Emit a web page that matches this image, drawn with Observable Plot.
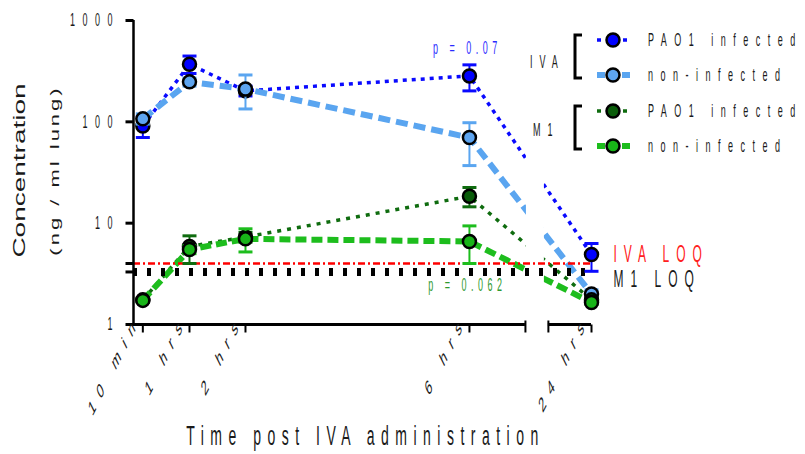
<!DOCTYPE html>
<html><head><meta charset="utf-8">
<script src="https://cdn.jsdelivr.net/npm/d3@7"></script>
<script src="https://cdn.jsdelivr.net/npm/@observablehq/plot@0.6"></script>
<style>
html,body{margin:0;padding:0;background:#fff;}
#chart svg{display:block;}
</style></head><body><div id="chart"></div>
<script>
// ---------------- data ----------------
const timeHours = [1/6, 1, 2, 6, 24];
const timeLabels = ["10 min", "1 hrs", "2 hrs", "6 hrs", "24 hrs"];

const ivaInfectedMean = [91, 370, 202, 284, 4.9];
const ivaInfectedLow  = [70, 300, 180, 202, 3.35];
const ivaInfectedHigh = [112, 446, 225, 365, 6.3];

const ivaNonInfectedMean = [107, 248, 211, 70, 2.0];
const ivaNonInfectedLow  = [95, 225, 134, 37, 1.85];
const ivaNonInfectedHigh = [120, 270, 290, 98, 2.2];

const m1InfectedMean = [1.75, 5.9, 7.3, 18.4, 1.75];
const m1InfectedLow  = [1.68, 4.0, 6.5, 14.5, 1.68];
const m1InfectedHigh = [1.83, 7.5, 8.1, 22.5, 1.83];

const m1NonInfectedMean = [1.73, 5.5, 7.0, 6.6, 1.65];
const m1NonInfectedLow  = [1.66, 5.0, 5.2, 4.0, 1.58];
const m1NonInfectedHigh = [1.8, 6.0, 8.8, 9.4, 1.72];

const yTickValues = [1, 10, 100, 1000];
const loqValues = [4.0, 3.3];
const loqLabels = ["IVA LOQ", "M1 LOQ"];
const pValueLabels = ["p = 0.07", "p = 0.062"];
const legendGroups = ["IVA", "M1"];
const legendLabels = ["PAO1 infected", "non-infected"];
const xAxisTitle = "Time post IVA administration";
const yAxisTitle = ["Concentration", "(ng / ml lung)"];
const xAxisSegments = [[0, 7], [23.23, 24]];   // hours shown on each side of the axis break

// ---------------- helpers ----------------
const breakGap = 0.41;
const brk = t => t <= xAxisSegments[0][1] ? t : xAxisSegments[0][1] + breakGap + (t - xAxisSegments[1][0]);
const FONT = "Liberation Sans, Arial, Helvetica, sans-serif";
const INK = "#1a1a1a";

const series = [
  {mean: ivaInfectedMean, low: ivaInfectedLow, high: ivaInfectedHigh, fill: "#0000ff", line: "#0a0aff", width: 3.5, dash: "4,5"},
  {mean: ivaNonInfectedMean, low: ivaNonInfectedLow, high: ivaNonInfectedHigh, fill: "#5da4ef", line: "#5aa5f0", width: 6, dash: "12,6"},
  {mean: m1InfectedMean, low: m1InfectedLow, high: m1InfectedHigh, fill: "#0a5c0a", line: "#0f6c0f", width: 3.5, dash: "4,6"},
  {mean: m1NonInfectedMean, low: m1NonInfectedLow, high: m1NonInfectedHigh, fill: "#18b418", line: "#1dbd1d", width: 6, dash: "11,5"}
];
const rowsOf = s => timeHours.map((t, i) => ({x: brk(t), v: s.mean[i], lo: s.low[i], hi: s.high[i]}));

const hTick = {draw(c) { c.moveTo(-8, 0); c.lineTo(0, 0); }};
const vTick = {draw(c) { c.moveTo(0, 0); c.lineTo(0, 8); }};
const vTickLong = {draw(c) { c.moveTo(0, -4); c.lineTo(0, 8); }};
const capSym = {draw(c) { c.moveTo(-7, 0); c.lineTo(7, 0); }};

// ---------------- marks ----------------
const marks = [];
const xEnd = brk(timeHours[timeHours.length - 1]);

// series lines, then white mask over the axis break
series.forEach(s => marks.push(Plot.line(rowsOf(s), {x: "x", y: "v", stroke: s.line, strokeWidth: s.width, strokeDasharray: s.dash, strokeLinecap: "butt", strokeLinejoin: "miter"})));
marks.push(Plot.rect([{x1: brk(xAxisSegments[0][1]), x2: brk(xAxisSegments[1][0])}], {x1: "x1", x2: "x2", y1: () => 1, y2: () => 1000, fill: "#fff", insetLeft: 1, insetRight: 4}));

// LOQ lines
marks.push(Plot.ruleY([{v: loqValues[0], x1: 0, x2: xEnd}], {y: "v", x1: "x1", x2: "x2", stroke: "#ff0000", strokeWidth: 2.5, strokeDasharray: "7,3,2,3"}));
marks.push(Plot.ruleY([{v: loqValues[1], x1: 0, x2: xEnd}], {y: "v", x1: "x1", x2: "x2", stroke: "#000", strokeWidth: 8, strokeDasharray: "4,10"}));

series.forEach(s => {
  const rows = rowsOf(s);
  marks.push(Plot.ruleX(rows, {x: "x", y1: "lo", y2: "hi", stroke: s.line, strokeWidth: 2}));
  marks.push(Plot.dot(rows, {x: "x", y: "lo", symbol: capSym, fill: "none", stroke: s.line, strokeWidth: 3}));
  marks.push(Plot.dot(rows, {x: "x", y: "hi", symbol: capSym, fill: "none", stroke: s.line, strokeWidth: 3}));
  marks.push(Plot.dot(rows, {x: "x", y: "v", r: 6.5, fill: s.fill, stroke: "#000", strokeWidth: 2.5}));
});

// axes
marks.push(Plot.ruleX([{x: 0, y1: 1, y2: 1000}], {x: "x", y1: "y1", y2: "y2", stroke: "#000", strokeWidth: 2.5}));
marks.push(Plot.ruleY(xAxisSegments.map(([a, b]) => ({y: 1, x1: brk(a), x2: brk(b)})), {y: "y", x1: "x1", x2: "x2", stroke: "#000", strokeWidth: 3}));
marks.push(Plot.dot([...yTickValues, ...loqValues], {x: () => 0, y: d => d, symbol: hTick, fill: "none", stroke: "#000", strokeWidth: 3}));
marks.push(Plot.dot(timeHours, {x: brk, y: () => 1, symbol: vTick, fill: "none", stroke: "#000", strokeWidth: 2}));
marks.push(Plot.dot([xAxisSegments[0][1], xAxisSegments[1][0]], {x: brk, y: () => 1, symbol: vTickLong, fill: "none", stroke: "#000", strokeWidth: 2}));

// texts
marks.push(Plot.text(yTickValues, {x: () => 0, y: d => d, text: d => String(d), textAnchor: "end", dx: -13.5, fontSize: 18, fontFamily: FONT, fill: INK}));
marks.push(Plot.text(timeHours, {x: brk, y: () => 1, text: (d, i) => timeLabels[i], textAnchor: "end", rotate: -45, dx: -5, dy: -8, fontSize: 21, fontFamily: FONT, fill: INK}));
marks.push(Plot.text([xAxisTitle], {text: d => d, frameAnchor: "bottom", textAnchor: "middle", lineAnchor: "middle", dx: 3, dy: 112, fontSize: 28, fontFamily: FONT, fill: INK}));
marks.push(Plot.text([yAxisTitle[0]], {text: d => d, frameAnchor: "left", textAnchor: "middle", lineAnchor: "middle", dx: -114, dy: -2, rotate: -90, fontSize: 28, fontFamily: FONT, fill: INK}));
marks.push(Plot.text([yAxisTitle[1]], {text: d => d, frameAnchor: "left", textAnchor: "middle", lineAnchor: "middle", dx: -79, dy: -2, rotate: -90, fontSize: 22, fontFamily: FONT, fill: INK}));
marks.push(Plot.text([{x: brk(timeHours[3]), v: ivaInfectedMean[3], label: pValueLabels[0]}], {x: "x", y: "v", text: "label", dx: -2, dy: -28, fontSize: 18, fontFamily: FONT, fill: "#2a2aff"}));
marks.push(Plot.text([{x: brk(timeHours[3]), v: m1NonInfectedMean[3], label: pValueLabels[1]}], {x: "x", y: "v", text: "label", dx: -2, dy: 44, fontSize: 18, fontFamily: FONT, fill: "#2f9a2f"}));
marks.push(Plot.text([{v: loqValues[0], label: loqLabels[0]}], {x: () => xEnd, y: "v", text: "label", textAnchor: "start", dx: 22, dy: -9, fontSize: 24, fontFamily: FONT, fill: "#ff2020"}));
marks.push(Plot.text([{v: loqValues[1], label: loqLabels[1]}], {x: () => xEnd, y: "v", text: "label", textAnchor: "start", dx: 22, dy: 7, fontSize: 24, fontFamily: FONT, fill: INK}));

const chart = Plot.plot({
  width: 805, height: 454,
  marginLeft: 133, marginRight: 214, marginTop: 20, marginBottom: 130,
  style: {fontFamily: FONT, background: "#fff"},
  x: {domain: [0, xEnd], axis: null},
  y: {type: "log", domain: [1, 1000], axis: null},
  marks
});
document.getElementById("chart").appendChild(chart);

// ---------------- legend ----------------
const svg = d3.select(chart);
const lg = svg.append("g").attr("font-family", FONT);
const legendRowY = [40, 75, 111, 146];
const groupLabelX = [530, 533];
const groupLabelY = [62, 130];
legendGroups.forEach((g, gi) => {
  const y0 = legendRowY[gi * 2] - 5, y1 = legendRowY[gi * 2 + 1] + 3;
  lg.append("path").attr("d", `M582,${y0}H575V${y1}H582`).attr("fill", "none").attr("stroke", "#000").attr("stroke-width", 3);
  lg.append("text").attr("transform", `translate(${groupLabelX[gi]},${groupLabelY[gi]})`).attr("dy", "0.35em")
    .attr("text-anchor", "start").attr("font-size", 18).attr("fill", INK).text(g);
});
series.forEach((s, i) => {
  const y = legendRowY[i];
  lg.append("line").attr("x1", 597).attr("x2", 630).attr("y1", y).attr("y2", y)
    .attr("stroke", s.line).attr("stroke-width", s.width).attr("stroke-dasharray", s.width > 4 ? "8,17" : "4,22");
  lg.append("circle").attr("cx", 613).attr("cy", y).attr("r", 6.5).attr("fill", s.fill).attr("stroke", "#000").attr("stroke-width", 2.5);
  lg.append("text").attr("transform", `translate(648,${y})`).attr("dy", "0.35em").attr("text-anchor", "start")
    .attr("font-size", 18).attr("fill", INK).text(legendLabels[i % 2]);
});

// ---------------- text spacing + narrow (condensed) look ----------------
const spacingOf = new Map();
yTickValues.forEach(v => spacingOf.set(String(v), 15));
timeLabels.forEach(v => spacingOf.set(v, 12));
spacingOf.set(xAxisTitle, 13);
spacingOf.set(yAxisTitle[0], 0);
spacingOf.set(yAxisTitle[1], 3);
pValueLabels.forEach(v => spacingOf.set(v, 9));
loqLabels.forEach(v => spacingOf.set(v, 14));
legendGroups.forEach(v => spacingOf.set(v, 14));
legendLabels.forEach(v => spacingOf.set(v, 15));

function squeeze(t, k) {
  const tr = t.getAttribute("transform") || "";
  let tx = 0, ty = 0, rot = 0;
  const m = tr.match(/translate\(\s*([-\d.e]+)[\s,]+([-\d.e]+)\s*\)/);
  if (m) { tx = +m[1]; ty = +m[2]; }
  const r = tr.match(/rotate\(\s*([-\d.e]+)\s*\)/);
  if (r) rot = +r[1];
  const ax = t.getAttribute("x"), ay = t.getAttribute("y");
  if (ax && /^[-\d.]+$/.test(ax)) { tx += +ax; t.removeAttribute("x"); }
  if (ay && /^[-\d.]+$/.test(ay)) { ty += +ay; t.removeAttribute("y"); }
  t.setAttribute("transform", `translate(${tx},${ty}) scale(${k},1)${rot ? ` rotate(${rot})` : ""}`);
}
chart.querySelectorAll("text").forEach(t => {
  const s = t.textContent;
  if (spacingOf.has(s)) t.style.letterSpacing = spacingOf.get(s) + "px";
  squeeze(t, yAxisTitle.includes(s) ? 0.6 : 0.5);
});
</script></body></html>
